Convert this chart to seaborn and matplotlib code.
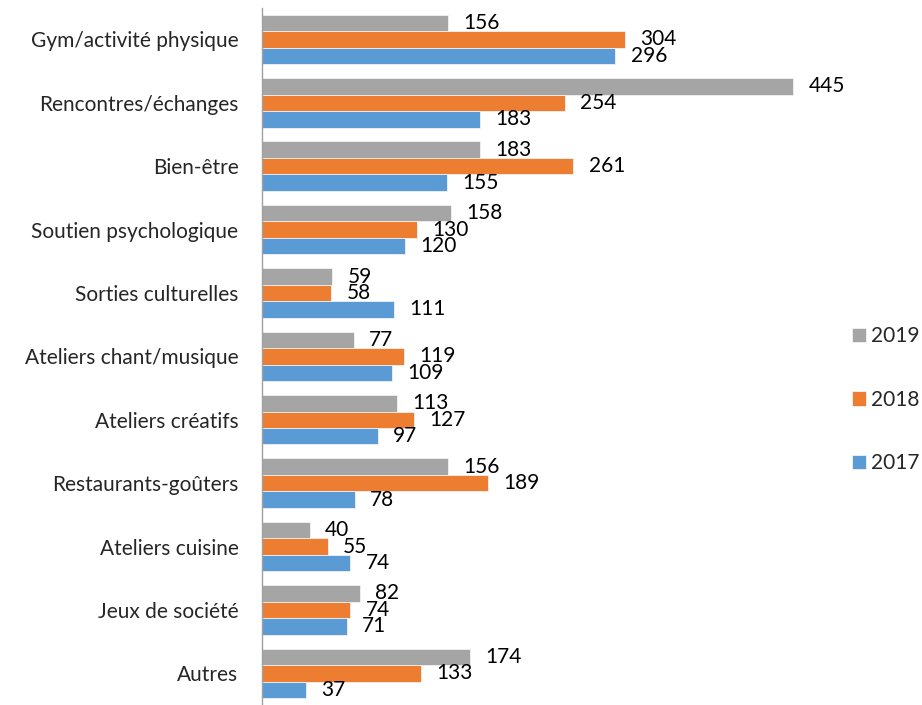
import matplotlib
matplotlib.use("Agg")
import matplotlib.pyplot as plt
import pandas as pd
import seaborn as sns

categories = ["Gym/activité physique", "Rencontres/échanges", "Bien-être",
              "Soutien psychologique", "Sorties culturelles", "Ateliers chant/musique",
              "Ateliers créatifs", "Restaurants-goûters", "Ateliers cuisine",
              "Jeux de société", "Autres"]
years = ["2019", "2018", "2017"]
vals_2019 = [156, 445, 183, 158, 59, 77, 113, 156, 40, 82, 174]
vals_2018 = [304, 254, 261, 130, 58, 119, 127, 189, 55, 74, 133]
vals_2017 = [296, 183, 155, 120, 111, 109, 97, 78, 74, 71, 37]
colors = ["#A5A5A5", "#ED7D31", "#5B9BD5"]

df = pd.DataFrame({
    "Catégorie": categories * 3,
    "Année": [y for y in years for _ in categories],
    "Valeur": vals_2019 + vals_2018 + vals_2017,
})

sns.set_style("white")
plt.rcParams["font.family"] = ["Lato", "DejaVu Sans"]
fs = 15

fig = plt.figure(figsize=(9.22, 7.05), dpi=100)
ax = fig.add_axes([262 / 922, 0.0, 580 / 922, 0.989])

sns.barplot(data=df, y="Catégorie", x="Valeur", hue="Année", hue_order=years,
            order=categories, palette=colors, saturation=1, orient="h", width=0.78,
            edgecolor="#f2f2f2", linewidth=0.6, ax=ax)

for cont in ax.containers:
    ax.bar_label(cont, padding=11, fontsize=fs, color="#000000")

ax.set_xlim(0, 486)
ax.set_ylim(10.5, -0.5)
ax.set_xlabel("")
ax.set_ylabel("")
ax.set_xticks([])
ax.tick_params(axis="y", labelsize=fs, length=0, pad=17)
for s in ["top", "right", "bottom"]:
    ax.spines[s].set_visible(False)
ax.spines["left"].set_color("#A0A0A0")
ax.spines["left"].set_linewidth(1)

handles, labels = ax.get_legend_handles_labels()
ax.legend(handles, labels, loc="center left", bbox_to_anchor=(852 / 922, 0.433),
          bbox_transform=fig.transFigure, frameon=False, fontsize=fs, borderpad=0,
          borderaxespad=0, handlelength=0.67, handleheight=0.67,
          handletextpad=0.25, labelspacing=2.1)

fig.savefig("out.png", dpi=100)
